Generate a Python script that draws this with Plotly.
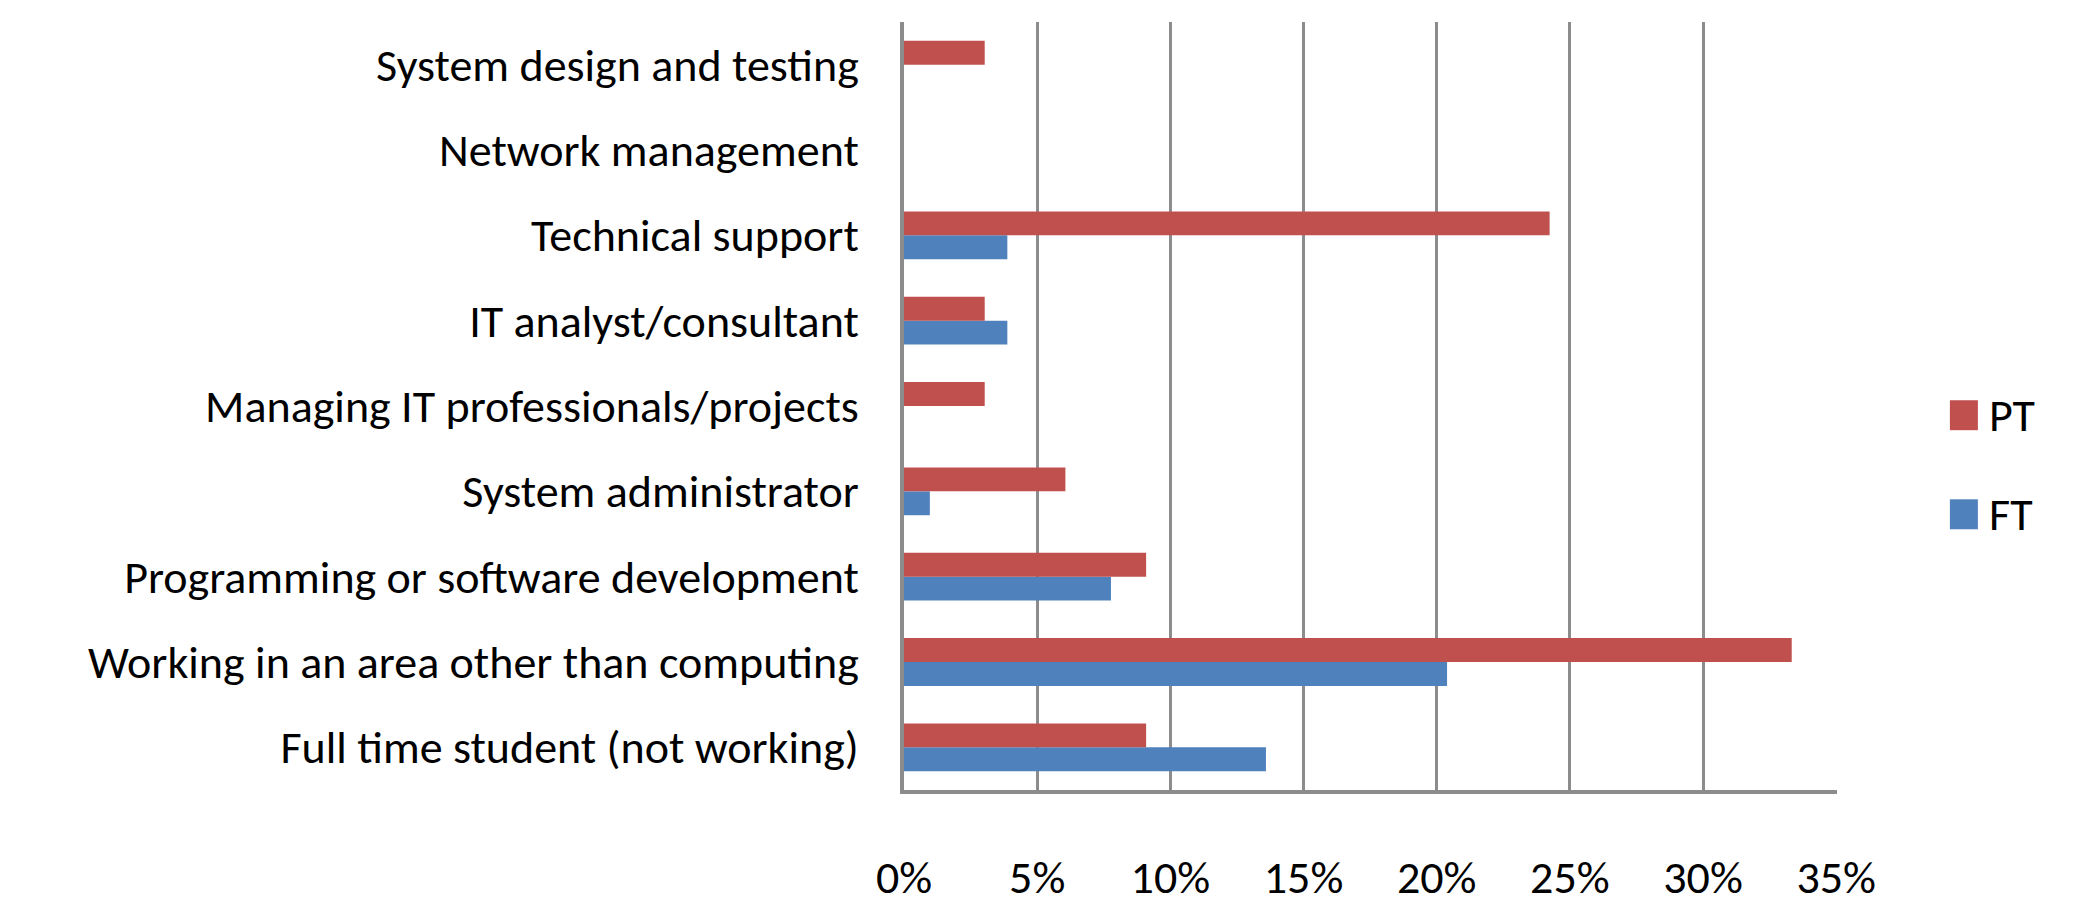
import plotly.graph_objects as go

# Job categories, listed bottom-to-top as they appear on the axis
categories = [
    "Full time student (not working)",
    "Working in an area other than computing",
    "Programming or software development",
    "System administrator",
    "Managing IT professionals/projects",
    "IT analyst/consultant",
    "Technical support",
    "Network management",
    "System design and testing",
]

# Share of respondents (%) per category
ft_values = [13.59, 20.39, 7.77, 0.97, 0.0, 3.88, 3.88, 0.0, 0.0]
pt_values = [9.09, 33.33, 9.09, 6.06, 3.03, 3.03, 24.24, 0.0, 3.03]

x_ticks = [0, 5, 10, 15, 20, 25, 30, 35]
x_tick_labels = ["0%", "5%", "10%", "15%", "20%", "25%", "30%", "35%"]

FT_COLOR = "#4F81BD"
PT_COLOR = "#C0504D"
AXIS_COLOR = "#8C8C8C"
FONT = "Carlito, Calibri, Lato, sans-serif"
FONT_SIZE = 46

fig = go.Figure()
fig.add_trace(go.Bar(name="FT", y=categories, x=ft_values, orientation="h",
                     marker=dict(color=FT_COLOR, line=dict(width=0)), showlegend=False))
fig.add_trace(go.Bar(name="PT", y=categories, x=pt_values, orientation="h",
                     marker=dict(color=PT_COLOR, line=dict(width=0)), showlegend=False))

# Hand-built legend block to the right of the plot
legend_items = [("PT", PT_COLOR, 0.488), ("FT", FT_COLOR, 0.359)]
for name, color, yc in legend_items:
    fig.add_shape(type="rect", xref="paper", yref="paper",
                  x0=1.121, x1=1.151, y0=yc - 0.0195, y1=yc + 0.0195,
                  fillcolor=color, line=dict(width=0))
    fig.add_annotation(text=name, xref="paper", yref="paper", x=1.161, y=yc,
                       xanchor="left", yanchor="middle", showarrow=False,
                       font=dict(family=FONT, size=FONT_SIZE, color="#000000"))

fig.update_layout(
    width=2098, height=907,
    margin=dict(l=904, r=261, t=22, b=117),
    paper_bgcolor="white", plot_bgcolor="white",
    barmode="group", bargap=0.44, bargroupgap=0.0,
    font=dict(family=FONT, size=FONT_SIZE, color="#000000"),
)
fig.update_xaxes(
    range=[0, 35.03], tickvals=x_ticks, ticktext=x_tick_labels,
    showgrid=True, gridcolor=AXIS_COLOR, gridwidth=3,
    showline=True, linecolor=AXIS_COLOR, linewidth=4,
    zeroline=False, ticks="", ticklabelstandoff=44, automargin=False,
    tickfont=dict(family=FONT, size=FONT_SIZE, color="#000000"),
)
fig.update_yaxes(
    showgrid=False, showline=True, linecolor=AXIS_COLOR, linewidth=4,
    zeroline=False, ticks="", ticklabelstandoff=32, automargin=False,
    tickfont=dict(family=FONT, size=FONT_SIZE, color="#000000"),
)

fig.write_html("out.html")
